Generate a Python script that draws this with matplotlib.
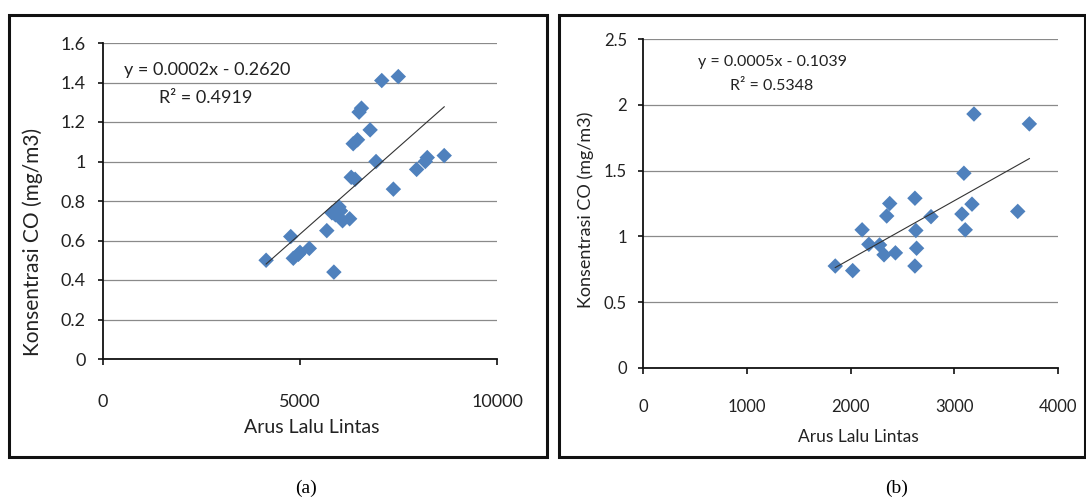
import numpy as np
import matplotlib
matplotlib.use("Agg")
import matplotlib.pyplot as plt
from matplotlib.patches import Rectangle

plt.rcParams['font.family'] = ['Lato', 'DejaVu Sans']

# ---- Data ----
# Panel (a)
arus_a = [4140, 4765, 4830, 4960, 5000, 5236, 5680, 5860, 5810, 5900, 5990, 6030,
          6080, 6260, 6300, 6400, 6350, 6460, 6500, 6560, 6780, 6930, 7075, 7495,
          7370, 7960, 8180, 8230, 8660]
co_a = [0.50, 0.62, 0.51, 0.53, 0.54, 0.56, 0.65, 0.44, 0.74, 0.73, 0.77, 0.75,
        0.70, 0.71, 0.92, 0.91, 1.09, 1.11, 1.25, 1.27, 1.16, 1.00, 1.41, 1.43,
        0.86, 0.96, 1.00, 1.02, 1.03]
eq_a = "y = 0.0002x - 0.2620"
r2_a = "R² = 0.4919"

# Panel (b)
arus_b = [1853, 2021, 2112, 2177, 2280, 2323, 2349, 2378, 2433, 2621, 2630, 2637,
          2621, 2776, 3074, 3093, 3106, 3171, 3190, 3612, 3724]
co_b = [0.775, 0.74, 1.05, 0.94, 0.935, 0.86, 1.155, 1.25, 0.875, 1.29, 1.045, 0.91,
        0.775, 1.15, 1.17, 1.48, 1.05, 1.245, 1.93, 1.19, 1.855]
eq_b = "y = 0.0005x - 0.1039"
r2_b = "R² = 0.5348"

yticks_a = [0, 0.2, 0.4, 0.6, 0.8, 1, 1.2, 1.4, 1.6]
ytick_labels_a = ["0", "0.2", "0.4", "0.6", "0.8", "1", "1.2", "1.4", "1.6"]
xticks_a = [0, 5000, 10000]
yticks_b = [0, 0.5, 1, 1.5, 2, 2.5]
ytick_labels_b = ["0", "0.5", "1", "1.5", "2", "2.5"]
xticks_b = [0, 1000, 2000, 3000, 4000]

xlabel = "Arus Lalu Lintas"
ylabel = "Konsentrasi CO (mg/m3)"

W, H = 1086, 499
fig = plt.figure(figsize=(W / 100, H / 100), dpi=100)
fig.patch.set_facecolor("white")


def px_axes(x0, y0, x1, y1):
    return fig.add_axes([x0 / W, 1 - y1 / H, (x1 - x0) / W, (y1 - y0) / H])


def box(x0, y0, x1, y1, lw):
    r = Rectangle((x0 / W, 1 - y1 / H), (x1 - x0) / W, (y1 - y0) / H,
                  transform=fig.transFigure, fill=False, edgecolor="#111111",
                  linewidth=lw, zorder=0)
    fig.patches.append(r)


MARK = "#4F81BD"


def panel(ax, xs, ys, xticks, yticks, ylabs, xmax, ymax, tick_fs, xpad, ypad,
          ylab_fs, xlab_fs, ylab_pos, xlab_pos):
    ax.set_xlim(0, xmax)
    ax.set_ylim(0, ymax)
    ax.set_yticks(yticks)
    ax.set_yticklabels(ylabs)
    ax.set_xticks(xticks)
    ax.set_xticklabels([str(t) for t in xticks])
    for s in ["top", "right"]:
        ax.spines[s].set_visible(False)
    for s in ["left", "bottom"]:
        ax.spines[s].set_linewidth(1.3)
        ax.spines[s].set_color("#111111")
    ax.yaxis.grid(True, color="#8a8a8a", linewidth=0.9)
    ax.set_axisbelow(True)
    ax.tick_params(axis="x", direction="out", length=4.5, width=1.2,
                   labelsize=tick_fs, pad=xpad, colors="#111111")
    ax.tick_params(axis="y", direction="out", length=3.5, width=1.2,
                   labelsize=tick_fs, pad=ypad, colors="#111111")
    for lab in ax.get_xticklabels() + ax.get_yticklabels():
        lab.set_color("#222222")
    ax.scatter(xs, ys, marker="D", s=62, color=MARK, edgecolors="none", zorder=3)
    # linear trendline computed from the data
    k, b = np.polyfit(xs, ys, 1)
    xx = np.array([min(xs), max(xs)])
    ax.plot(xx, k * xx + b, color="#333333", linewidth=0.8, zorder=4)
    ax.set_ylabel(ylabel, fontsize=ylab_fs, va="center", color="#222222")
    ax.yaxis.set_label_coords(*ylab_pos)
    ax.set_xlabel(xlabel, fontsize=xlab_fs, va="center", color="#222222")
    ax.xaxis.set_label_coords(*xlab_pos)


# Panel (a)
box(9, 15, 547, 457, 2.2)
axa = px_axes(103, 43, 497, 359)
panel(axa, arus_a, co_a, xticks_a, yticks_a, ytick_labels_a, 10000, 1.6,
      13, 21, 9, 15, 14, (-0.178, 0.37), (0.53, -0.218))
fig.text(207 / W, 1 - 70 / H, eq_a, fontsize=13, ha="center", va="center",
         color="#222222")
fig.text(206 / W, 1 - 98 / H, r2_a, fontsize=13, ha="center", va="center",
         color="#222222")

# Panel (b)
box(559, 15, 1085, 457, 2.2)
axb = px_axes(643, 39, 1058, 368)
panel(axb, arus_b, co_b, xticks_b, yticks_b, ytick_labels_b, 4000, 2.5,
      12, 18, 8, 13, 12.5, (-0.137, 0.48), (0.519, -0.21))
fig.text(773 / W, 1 - 62 / H, eq_b, fontsize=11.5, ha="center", va="center",
         color="#222222")
fig.text(772 / W, 1 - 86 / H, r2_b, fontsize=11.5, ha="center", va="center",
         color="#222222")

# Panel captions
fig.text(306 / W, 1 - 488 / H, "(a)", fontsize=14, ha="center", va="center",
         family=["Liberation Serif", "DejaVu Serif"])
fig.text(897 / W, 1 - 488 / H, "(b)", fontsize=14, ha="center", va="center",
         family=["Liberation Serif", "DejaVu Serif"])

fig.savefig("out.png", dpi=100, facecolor="white")
